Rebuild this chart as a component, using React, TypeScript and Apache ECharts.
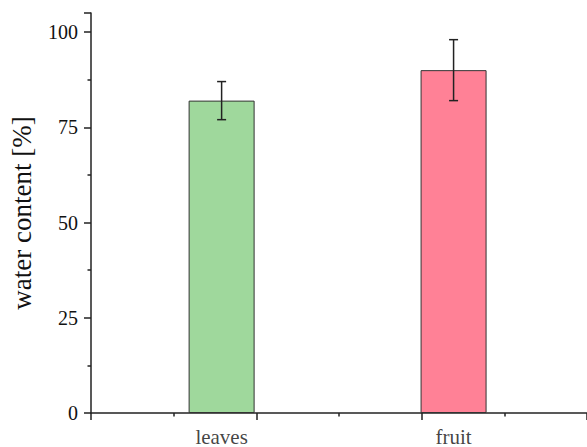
import React, { useEffect, useRef } from "react";
import * as echarts from "echarts";

const categories = ["leaves", "fruit"];
const positions = [0.79, 2.193];
const means = [82, 90];
const errors = [5, 8];
const colors = ["#9fd89c", "#ff8196"];
const yTicks = [0, 25, 50, 75, 100];

const FONT = "'Liberation Serif', 'Times New Roman', serif";

export default function App() {
  const ref = useRef<HTMLDivElement>(null);
  useEffect(() => {
    if (!ref.current) return;
    const chart = echarts.init(ref.current, null, { renderer: "svg" });
    const barData = means.map((m, i) => ({
      value: [positions[i], m],
      itemStyle: { color: colors[i] },
    }));
    const errData = means.map((m, i) => [positions[i], m - errors[i], m + errors[i]]);
    const labelData = categories.map((c, i) => ({ name: c, value: [positions[i], 0] }));
    chart.setOption({
      animation: false,
      grid: { left: 87, right: 0, top: 13, bottom: 34, containLabel: false },
      xAxis: {
        type: "value",
        min: 0,
        max: 3,
        interval: 1,
        axisLine: { show: true, onZero: false, lineStyle: { color: "#222", width: 1.5 } },
        axisTick: { show: true, inside: false, length: 7, lineStyle: { color: "#222", width: 1.5 } },
        minorTick: { show: true, splitNumber: 2, length: 3.5, lineStyle: { color: "#222", width: 1.5 } },
        axisLabel: { show: false },
        splitLine: { show: false },
      },
      yAxis: {
        type: "value",
        min: 0,
        max: 105,
        interval: 25,
        name: "water content [%]",
        nameLocation: "middle",
        nameGap: 56,
        nameRotate: 90,
        nameTextStyle: { fontFamily: FONT, fontSize: 27, color: "#111" },
        axisLine: { show: true, lineStyle: { color: "#222", width: 1.5 } },
        axisTick: { show: true, inside: false, length: 7, lineStyle: { color: "#222", width: 1.5 } },
        minorTick: { show: true, splitNumber: 2, length: 3.5, lineStyle: { color: "#222", width: 1.5 } },
        axisLabel: {
          fontFamily: FONT,
          fontSize: 20,
          color: "#111",
          margin: 13,
          formatter: (v: number) => (yTicks.includes(v) ? String(v) : ""),
        },
        splitLine: { show: false },
      },
      series: [
        {
          type: "bar",
          data: barData,
          barWidth: 66,
          itemStyle: { borderColor: "#333", borderWidth: 1 },
        },
        {
          type: "custom",
          data: errData,
          z: 10,
          renderItem: (params: any, api: any) => {
            const x = api.value(0);
            const lo = api.coord([x, api.value(1)]);
            const hi = api.coord([x, api.value(2)]);
            const cap = 4.5;
            const style = { stroke: "#222", lineWidth: 1.5 };
            return {
              type: "group",
              children: [
                { type: "line", shape: { x1: lo[0], y1: lo[1], x2: hi[0], y2: hi[1] }, style },
                { type: "line", shape: { x1: lo[0] - cap, y1: lo[1], x2: lo[0] + cap, y2: lo[1] }, style },
                { type: "line", shape: { x1: hi[0] - cap, y1: hi[1], x2: hi[0] + cap, y2: hi[1] }, style },
              ],
            };
          },
        },
        {
          type: "scatter",
          data: labelData,
          symbolSize: 0,
          silent: true,
          label: {
            show: true,
            position: "bottom",
            distance: 13,
            formatter: "{b}",
            fontFamily: FONT,
            fontSize: 21,
            color: "#111",
          },
        },
      ],
    });
    return () => chart.dispose();
  }, []);
  return (
    <div
      ref={ref}
      style={{ position: "fixed", left: 0, top: 0, width: 587, height: 447, background: "#fff" }}
    />
  );
}
